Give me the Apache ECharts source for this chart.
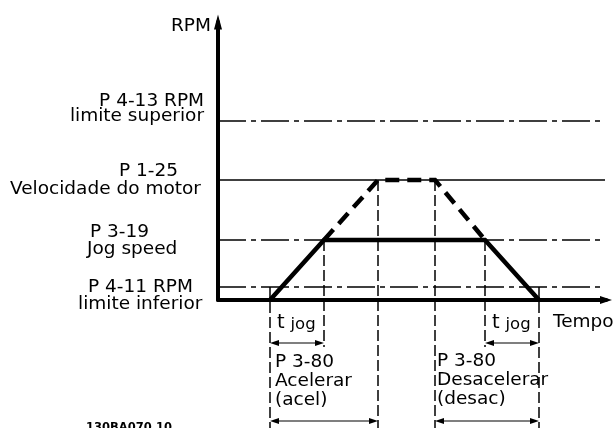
<!DOCTYPE html>
<html>
<head>
<meta charset="utf-8">
<script src="https://cdn.jsdelivr.net/npm/echarts@6/dist/echarts.min.js"></script>
<style>
  html, body { margin: 0; padding: 0; background: #fff; }
  #chart { width: 613px; height: 428px; }
</style>
</head>
<body>
<div id="chart"></div>
<script>
// Jog command: speed (RPM) against time
const jogT = [5.2, 10.6, 26.7, 32.1];
const jogRpm = [0, 600, 600, 0];
// Ramp towards the motor speed reference (continuation of the jog ramps)
const rampT = [10.6, 16.0, 21.7, 26.7];
const rampRpm = [600, 1200, 1200, 600];
// Speed levels marked along the RPM axis
const levelLines = [
  ['P 4-13 RPM', 'limite superior'],
  ['P 1-25', 'Velocidade do motor'],
  ['P 3-19', 'Jog speed'],
  ['P 4-11 RPM', 'limite inferior']
];
const levelRpm = [1790, 1200, 600, 130];
// Instants projected below the time axis
const markT = [5.2, 10.6, 16.0, 21.7, 26.7, 32.1];
const markRpm = [130, 600, 1200, 1200, 600, 130];
// Time spans shown with dimension arrows (row 0: t jog, row 1: ramp times)
const spanFrom = [5.2, 26.7, 5.2, 21.7];
const spanTo = [10.6, 32.1, 16.0, 32.1];
const spanRow = [0, 0, 1, 1];
const rampLabels = [['P 3-80', 'Acelerar', '(acel)'], ['P 3-80', 'Desacelerar', '(desac)']];
const axisNames = ['RPM', 'Tempo'];
const jogLabel = ['t', 'jog'];
const drawingId = '130BA070.10';

const INK = '#000';
const FONT = '"DejaVu Sans", Verdana, sans-serif';
const FS = 18.5;
const X_END = 38.7;            // right end of the level lines
const DASH_DOT = [28, 5, 5, 5];
const ROW_RPM = [-430, -1210]; // dimension rows under the time axis
const FOOT_RPM = -1300;        // below the lower page edge
const SHORT_FOOT_RPM = -470;
const ARROW_INSET = 0.45;

const series = [];

// Speed level lines
levelRpm.forEach((v, i) => series.push({
  type: 'line', silent: true, clip: false, symbol: 'none', z: 2,
  data: [[0, v], [X_END, v]],
  lineStyle: { color: INK, width: 1.5, type: i === 1 ? 'solid' : DASH_DOT, cap: 'butt' }
}));

// Projection lines from the profile corners down through the time axis
const longEnds = new Set();
spanRow.forEach((r, i) => { if (r === 1) { longEnds.add(spanFrom[i]); longEnds.add(spanTo[i]); } });
markT.forEach((t, i) => series.push({
  type: 'line', silent: true, clip: false, symbol: 'none', z: 3,
  data: [[t, markRpm[i]], [t, longEnds.has(t) ? FOOT_RPM : SHORT_FOOT_RPM]],
  lineStyle: { color: INK, width: 1.5, type: [11, 4], cap: 'butt' }
}));

// Motor speed ramp (dashed) and jog profile (solid)
series.push({
  type: 'line', silent: true, clip: false, symbol: 'none', z: 4,
  data: rampT.map((t, i) => [t, rampRpm[i]]),
  lineStyle: { color: INK, width: 4.5, type: [14, 8], cap: 'butt', join: 'miter' }
});
series.push({
  type: 'line', silent: true, clip: false, symbol: 'none', z: 5,
  data: jogT.map((t, i) => [t, jogRpm[i]]),
  lineStyle: { color: INK, width: 4.5, type: 'solid', join: 'miter' }
});

// Dimension arrows
spanFrom.forEach((a, i) => {
  const b = spanTo[i];
  const y = ROW_RPM[spanRow[i]];
  series.push({
    type: 'line', silent: true, clip: false, z: 6,
    symbol: 'triangle', symbolSize: [6, 9], showSymbol: true,
    itemStyle: { color: INK },
    lineStyle: { color: INK, width: 1.2 },
    data: [
      { value: [a + ARROW_INSET, y], symbolRotate: 90 },
      { value: [b - ARROW_INSET, y], symbolRotate: -90 }
    ]
  });
});

function txt(text, x, baseline, opts) {
  const o = opts || {};
  const fs = o.fontSize || FS;
  const st = {
    text: text, fill: INK, fontSize: fs, fontFamily: FONT,
    fontWeight: o.bold ? 'bold' : 'normal',
    textAlign: o.align || 'left', align: o.align || 'left',
    textVerticalAlign: 'middle', verticalAlign: 'middle'
  };
  if (o.rich) st.rich = o.rich;
  return { type: 'text', silent: true, x: x, y: baseline - 0.35 * fs + 1.5, z: 100, style: st };
}

const jogText = '{t|' + jogLabel[0] + '} {j|' + jogLabel[1] + '}';
const jogRich = {
  t: { fontSize: 19.5, fontFamily: FONT, fill: INK },
  j: { fontSize: 16.5, fontFamily: FONT, fill: INK, verticalAlign: 'bottom' }
};

const graphics = [
  txt(axisNames[0], 171, 31),
  txt(levelLines[0][0], 204, 106, { align: 'right' }),
  txt(levelLines[0][1], 204, 121, { align: 'right' }),
  txt(levelLines[1][0], 119, 176),
  txt(levelLines[1][1], 10, 194),
  txt(levelLines[2][0], 90, 237),
  txt(levelLines[2][1], 87, 254),
  txt(levelLines[3][0], 88, 292),
  txt(levelLines[3][1], 78, 309),
  txt(jogText, 277, 328, { rich: jogRich }),
  txt(jogText, 492, 328, { rich: jogRich }),
  txt(rampLabels[0][0], 275, 367),
  txt(rampLabels[0][1], 275, 386),
  txt(rampLabels[0][2], 275, 405),
  txt(rampLabels[1][0], 437, 366),
  txt(rampLabels[1][1], 437, 385),
  txt(rampLabels[1][2], 437, 404),
  txt(axisNames[1], 553, 327),
  txt(drawingId, 86, 430.5, { fontSize: 11.5, bold: true })
];

const chart = echarts.init(document.getElementById('chart'), null, { renderer: 'canvas' });
chart.setOption({
  animation: false,
  backgroundColor: '#fff',
  grid: { left: 218, right: 7, top: 22, bottom: 128, containLabel: false, outerBoundsMode: 'none' },
  xAxis: {
    type: 'value', min: 0, max: 38.8,
    axisLine: { show: true, onZero: false, symbol: ['none', 'triangle'], symbolSize: [8, 12],
      lineStyle: { color: INK, width: 4 } },
    axisTick: { show: false }, axisLabel: { show: false }, splitLine: { show: false }
  },
  yAxis: {
    type: 'value', min: 0, max: 2780,
    axisLine: { show: true, onZero: false, symbol: ['none', 'triangle'], symbolSize: [8, 15],
      lineStyle: { color: INK, width: 4 } },
    axisTick: { show: false }, axisLabel: { show: false }, splitLine: { show: false }
  },
  series: series,
  graphic: graphics
});
</script>
</body>
</html>
